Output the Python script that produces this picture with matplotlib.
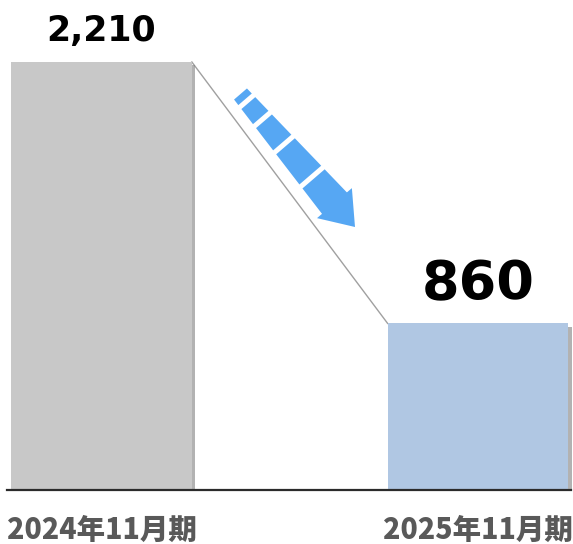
import numpy as np
import matplotlib
matplotlib.use("Agg")
import matplotlib.pyplot as plt
from matplotlib.patches import Polygon
from matplotlib import patheffects as pe
from matplotlib.transforms import blended_transform_factory

categories = ["2024年11月期", "2025年11月期"]
values = [2210, 860]
value_labels = ["2,210", "860"]
bar_colors = ["#C8C8C8", "#B0C7E3"]

W, H = 573, 544
fig = plt.figure(figsize=(W / 100, H / 100), dpi=100)
ax = fig.add_axes([0, (H - 490) / H, 1, 490 / H])
ax.set_axis_off()

x = np.arange(len(categories))
bw = 0.48
shadow = [pe.SimplePatchShadow(offset=(2.5, -2.5), shadow_rgbFace="#808080", alpha=0.6), pe.Normal()]
bars = ax.bar(x, values, width=bw, color=bar_colors, zorder=2)
for b in bars:
    b.set_path_effects(shadow)

ax.set_xlim(-0.2696, 1.2523)
ax.set_ylim(0, values[0] * 490 / 428)

# connector line
ax.plot([x[0] + bw / 2, x[1] - bw / 2], [values[0], values[1]], color="#A0A0A0", lw=1.0, zorder=1)

# baseline
ax.plot([7 / W, 571 / W], [0, 0], transform=ax.transAxes, color="#2b2b2b", lw=1.6, zorder=3, clip_on=False)

# value labels
ax.text(x[0], values[0] + 70, value_labels[0], ha="center", va="bottom", fontsize=25,
        fontweight="bold", family="DejaVu Sans", color="#000000")
ax.text(x[1], values[1] + 70, value_labels[1], ha="center", va="bottom", fontsize=39,
        fontweight="bold", family="DejaVu Sans", color="#000000")

# category labels
lab_tr = blended_transform_factory(ax.transData, fig.transFigure)
for xi, c in zip(x, categories):
    ax.text(xi, 5 / H, c, transform=lab_tr, ha="center", va="baseline", fontsize=20.5,
            fontweight="heavy", family=["Noto Sans CJK JP", "DejaVu Sans"],
            color="#595959", clip_on=False)

# dashed arrow decoration (pixel coords from top-left)
p0 = np.array([240.5, 94.0])
p1 = np.array([355.0, 227.0])
d = p1 - p0
L = np.hypot(*d)
u = d / L
n = np.array([-u[1], u[0]])
arrow_color = "#56A7F3"

def to_fig(pts):
    pts = np.asarray(pts)
    return np.column_stack([pts[:, 0] / W, 1 - pts[:, 1] / H])

def width(t):
    return 17 + 0.11 * t

dashes = [(0, 7), (12, 31), (36, 64), (69, 107), (112, 146)]
for t0, t1 in dashes:
    w0, w1 = width(t0) / 2, width(t1) / 2
    quad = [p0 + u * t0 + n * w0, p0 + u * t1 + n * w1, p0 + u * t1 - n * w1, p0 + u * t0 - n * w0]
    fig.add_artist(Polygon(to_fig(quad), closed=True, facecolor=arrow_color, edgecolor="none"))
hw = 23
head = [p0 + u * 144 + n * hw, p1, p0 + u * 144 - n * hw]
fig.add_artist(Polygon(to_fig(head), closed=True, facecolor=arrow_color, edgecolor="none"))

fig.savefig("out.png", dpi=100)
